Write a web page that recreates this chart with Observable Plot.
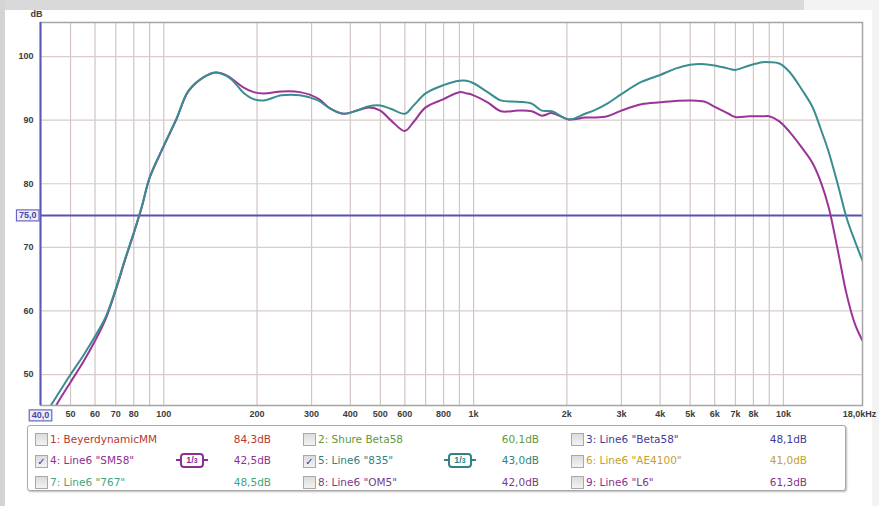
<!DOCTYPE html>
<html><head><meta charset="utf-8">
<script src="https://cdn.jsdelivr.net/npm/d3@7"></script>
<script src="https://cdn.jsdelivr.net/npm/@observablehq/plot@0.6"></script>
<style>
html,body{margin:0;padding:0;}
body{width:879px;height:506px;position:relative;overflow:hidden;background:#f3f3f3;font-family:"DejaVu Sans",sans-serif;}
#topband{position:absolute;left:0;top:0;width:804px;height:10px;background:#d9d9d9;}
#leftband{position:absolute;left:0;top:0;width:5px;height:506px;background:#d4d4d4;}
#panel{position:absolute;left:5px;top:10px;width:867px;height:496px;background:#fff;}
#chart{position:absolute;left:0;top:0;}
#legend{position:absolute;left:27px;top:425px;width:817px;height:64px;border:1px solid #a9a9a9;border-radius:3px;box-shadow:1px 1px 2px rgba(0,0,0,0.28);background:#fff;}
.cb{position:absolute;width:11px;height:11px;border:1px solid #a8a8a8;background:linear-gradient(#dcdcdc,#f2f2f2);font-size:10px;line-height:11px;text-align:center;color:#2a3a9c;font-weight:bold;}
.lbl,.val{position:absolute;font-size:10.5px;line-height:13px;white-space:nowrap;}
.val{text-align:right;width:60px;}
.ico{position:absolute;width:20px;height:11px;border:2px solid;border-radius:4px;font:bold 9px "Liberation Sans",Arial,sans-serif;line-height:11px;text-align:center;}
.ico::before,.ico::after{content:"";position:absolute;top:4.5px;width:4px;height:2px;background:currentColor;}
.ico::before{left:-6px;}
.ico::after{right:-6px;}
</style>
</head><body>
<div id="topband"></div><div id="leftband"></div><div id="panel"></div>
<div id="chart"></div>
<div id="legend"></div>
<script>
// ---- data ----
const freqs = [40, 42.5, 45, 50, 55, 60, 65, 70, 75, 80,
  85, 90, 100, 110, 120, 135, 147, 160, 170, 180,
  195, 210, 240, 275, 315, 345, 380, 420, 460, 500,
  540, 600, 640, 700, 800, 900, 950, 1000, 1110, 1225,
  1390, 1540, 1660, 1790, 2030, 2290, 2440, 2700, 3000, 3480,
  4000, 4480, 5000, 5580, 6000, 6650, 7000, 7760, 8570, 9000,
  9700, 10450, 11500, 12400, 13200, 14000, 15000, 16000, 17000, 18000];
const line6_835 = [42.7, 44.6, 46.5, 50.0, 53.0, 56.0, 59.1, 63.5, 68.2, 72.3,
  76.5, 81.0, 86.0, 90.3, 94.6, 96.8, 97.5, 96.9, 95.8, 94.4,
  93.3, 93.1, 93.9, 93.9, 93.1, 91.8, 91.0, 91.5, 92.2, 92.3,
  91.8, 91.0, 92.3, 94.2, 95.5, 96.2, 96.2, 95.8, 94.4, 93.1,
  92.9, 92.6, 91.5, 91.4, 90.1, 91.0, 91.5, 92.6, 94.1, 96.0,
  97.1, 98.1, 98.7, 98.8, 98.6, 98.1, 97.9, 98.6, 99.1, 99.1,
  98.9, 97.6, 94.7, 92.1, 88.6, 85.0, 79.8, 74.6, 71.0, 67.9];
const line6_sm58 = [41.5, 43.0, 45.2, 48.8, 52.0, 55.3, 58.8, 63.3, 68.0, 72.2,
  76.4, 80.9, 85.9, 90.2, 94.5, 96.8, 97.5, 97.0, 96.1, 95.2,
  94.4, 94.2, 94.5, 94.4, 93.4, 91.8, 91.0, 91.5, 92.0, 91.5,
  90.0, 88.3, 89.7, 92.0, 93.3, 94.4, 94.2, 93.9, 92.8, 91.4,
  91.5, 91.4, 90.7, 91.1, 90.1, 90.4, 90.4, 90.6, 91.5, 92.5,
  92.8, 93.0, 93.1, 92.9, 92.1, 91.0, 90.5, 90.6, 90.6, 90.6,
  89.8, 88.2, 85.6, 83.3, 80.3, 76.3, 69.4, 62.6, 58.0, 55.3];
const refLevel = 75;
const xDomain = [40, 18000];
const yDomain = [45.13, 105.35];
const xGrid = [50, 60, 70, 80, 90, 100, 200, 300, 400, 500, 600, 700, 800, 900,
  1000, 2000, 3000, 4000, 5000, 6000, 7000, 8000, 9000, 10000];
const xTickValues = [50, 60, 70, 80, 100, 200, 300, 400, 500, 600, 800,
  1000, 2000, 3000, 4000, 5000, 6000, 7000, 8000, 10000];
const yTickValues = [50, 60, 70, 80, 90, 100];
const xMinLabel = "40,0";
const xMaxLabel = "18,0kHz";
const refLabel = "75,0";
const yUnit = "dB";

const legendLabels = ['1: BeyerdynamicMM', '2: Shure Beta58', '3: Line6 "Beta58"',
  '4: Line6 "SM58"', '5: Line6 "835"', '6: Line6 "AE4100"',
  '7: Line6 "767"', '8: Line6 "OM5"', '9: Line6 "L6"'];
const legendLevels = ['84,3dB', '60,1dB', '48,1dB', '42,5dB', '43,0dB', '41,0dB', '48,5dB', '42,0dB', '61,3dB'];
const legendColors = ['#b5392d', '#62993a', '#3f3b95', '#8c2f93', '#2f8383', '#c4a02c', '#3ea77c', '#7b3a8a', '#8b3191'];
const legendChecked = [false, false, false, true, true, false, false, false, false];

const colSM58 = "#9c3399";
const col835 = "#3a8d8f";

// ---- chart ----
const sm58Data = freqs.map((f, i) => ({f, db: line6_sm58[i]}));
const e835Data = freqs.map((f, i) => ({f, db: line6_835[i]}));
const fmtX = f => f >= 1000 ? (f / 1000) + "k" : String(f);
const axisFont = {fontWeight: "bold", fill: "#3c3c3c"};

const chart = Plot.plot({
  width: 879, height: 425,
  marginLeft: 40, marginRight: 17, marginTop: 22, marginBottom: 20,
  style: {background: "transparent", fontFamily: "'Liberation Sans', Arial, sans-serif", fontSize: "9px", overflow: "visible"},
  x: {type: "log", domain: xDomain, axis: null},
  y: {domain: yDomain},
  marks: [
    Plot.frame({fill: "#fff"}),
    Plot.ruleX(xGrid, {x: d => d, stroke: "#d3c5c5", strokeWidth: 1.2}),
    Plot.ruleY(yTickValues, {y: d => d, stroke: "#d8cccc", strokeWidth: 1.2}),
    Plot.ruleY([refLevel], {y: d => d, stroke: "#5a50b2", strokeWidth: 2}),
    Plot.line(sm58Data, {x: "f", y: "db", stroke: colSM58, strokeWidth: 2, curve: "catmull-rom", clip: true}),
    Plot.line(e835Data, {x: "f", y: "db", stroke: col835, strokeWidth: 2, curve: "catmull-rom", clip: true}),
    Plot.frame({stroke: "#a5a5a5", strokeWidth: 1.5}),
    Plot.ruleX([xDomain[0]], {x: d => d, stroke: "#5b58b8", strokeWidth: 2}),
    Plot.text(xTickValues, {x: d => d, text: fmtX, frameAnchor: "bottom", dy: 9, lineAnchor: "middle", ...axisFont}),
    Plot.axisY({ticks: yTickValues, tickSize: 0, tickPadding: 7, label: null, ...axisFont}),
    Plot.text([yUnit], {text: d => d, frameAnchor: "top-left", dx: -10, dy: -8, lineAnchor: "middle", ...axisFont}),
    Plot.text([xDomain[0]], {x: d => d, text: () => xMinLabel, frameAnchor: "bottom", dy: 10, lineAnchor: "middle", fontSize: 9, fontWeight: "bold", fill: "#4646a6"}),
    Plot.text([xDomain[1]], {x: d => d, text: () => xMaxLabel, frameAnchor: "bottom", dy: 9, dx: -3, lineAnchor: "middle", ...axisFont}),
    Plot.text([refLevel], {y: d => d, text: () => refLabel, frameAnchor: "left", textAnchor: "end", dx: -4, lineAnchor: "middle", fontSize: 9, fontWeight: "bold", fill: "#4646a6"})
  ]
});
document.getElementById("chart").appendChild(chart);

// boxes around the boxed value labels
d3.select(chart).selectAll("text")
  .filter(function () { return this.textContent === xMinLabel || this.textContent === refLabel; })
  .each(function () {
    const b = this.getBBox();
    d3.select(this.parentNode).insert("rect", () => this)
      .attr("x", b.x - 2.5).attr("y", b.y - 0.5)
      .attr("width", b.width + 5).attr("height", b.height + 1)
      .attr("transform", this.getAttribute("transform"))
      .attr("fill", "#eeeefa").attr("stroke", "#6a66c2").attr("stroke-width", 1.2);
  });

// ---- legend ----
const legend = document.getElementById("legend");
legendLabels.forEach((name, i) => {
  const col = i % 3, row = Math.floor(i / 3);
  const left = 7 + col * 268, top = 7 + row * 21.5;
  const c = legendColors[i];
  const cb = document.createElement("div");
  cb.className = "cb"; cb.style.left = left + "px"; cb.style.top = top + "px";
  if (legendChecked[i]) cb.textContent = "\u2713";
  legend.appendChild(cb);
  const l = document.createElement("div");
  l.className = "lbl"; l.style.left = (left + 15) + "px"; l.style.top = (top - 0.5) + "px"; l.style.color = c;
  l.textContent = name;
  legend.appendChild(l);
  const v = document.createElement("div");
  v.className = "val"; v.style.left = (left + 176) + "px"; v.style.top = (top - 0.5) + "px"; v.style.color = c;
  v.textContent = legendLevels[i];
  legend.appendChild(v);
  if (legendChecked[i]) {
    const ic = document.createElement("div");
    ic.className = "ico"; ic.style.left = (left + 145) + "px"; ic.style.top = (top - 2) + "px";
    ic.style.color = c; ic.style.borderColor = c;
    ic.innerHTML = "1/<span style='font-size:7px'>3</span>";
    legend.appendChild(ic);
  }
});
</script>
</body></html>
